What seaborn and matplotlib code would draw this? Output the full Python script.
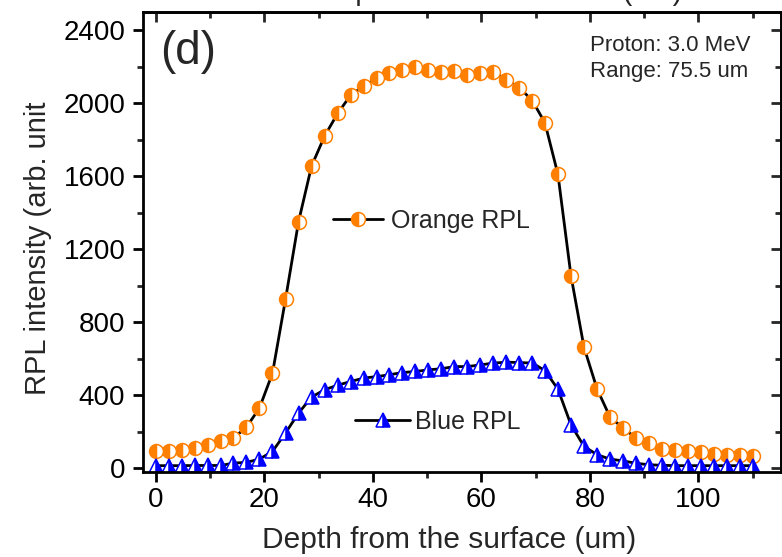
import matplotlib
matplotlib.use('Agg')
import matplotlib.pyplot as plt
from matplotlib.lines import Line2D
from matplotlib.ticker import MultipleLocator
import seaborn as sns

sns.set_theme(style='ticks')
plt.rcParams['font.family'] = ['Liberation Sans', 'DejaVu Sans']

# depth (um) and RPL intensity
depth = [0.0, 2.4, 4.8, 7.2, 9.6, 12.0, 14.3, 16.7, 19.1, 21.5, 23.9, 26.3,
         28.7, 31.1, 33.5, 35.9, 38.3, 40.7, 43.0, 45.4, 47.8, 50.2, 52.6,
         55.0, 57.4, 59.8, 62.2, 64.6, 67.0, 69.4, 71.7, 74.1, 76.5, 78.9,
         81.3, 83.7, 86.1, 88.5, 90.9, 93.3, 95.7, 98.0, 100.4, 102.8, 105.2,
         107.6, 110.0]
orange_rpl = [92, 96, 101, 112, 125, 147, 165, 225, 330, 521, 926, 1351,
              1656, 1820, 1944, 2044, 2094, 2136, 2163, 2181, 2199, 2181, 2172,
              2177, 2154, 2163, 2172, 2126, 2086, 2013, 1893, 1610, 1055, 663,
              435, 280, 220, 165, 138, 107, 101, 96, 87, 79, 74, 74, 68]
blue_rpl = [14, 14, 14, 15, 15, 15, 28, 32, 50, 92, 193, 302,
            390, 430, 455, 475, 494, 502, 512, 524, 530, 539, 545,
            557, 557, 566, 576, 581, 579, 576, 535, 433, 238, 120,
            74, 50, 40, 27, 19, 16, 14, 14, 14, 14, 14, 14, 14]

orange = '#ff8000'
blue = '#0000ff'

fig = plt.figure(figsize=(7.82, 5.57), dpi=100)
ax = fig.add_axes([0.1833, 0.1535, 0.8154, 0.825])

orange_style = dict(color='black', linewidth=2.0, marker='o', markersize=10,
                    markerfacecolor=orange, markeredgecolor=orange,
                    markerfacecoloralt='white', fillstyle='left',
                    markeredgewidth=1.1)
blue_style = dict(color='black', linewidth=2.0, marker='^', markersize=10.5,
                  markerfacecolor=blue, markeredgecolor=blue,
                  markerfacecoloralt='white', fillstyle='right',
                  markeredgewidth=1.1)

sns.lineplot(x=depth, y=orange_rpl, ax=ax, **orange_style)
sns.lineplot(x=depth, y=blue_rpl, ax=ax, **blue_style)

ax.set_xlim(-2.3, 115.2)
ax.set_ylim(-18, 2500)
ax.xaxis.set_major_locator(MultipleLocator(20))
ax.xaxis.set_minor_locator(MultipleLocator(10))
ax.yaxis.set_major_locator(MultipleLocator(400))
ax.yaxis.set_minor_locator(MultipleLocator(200))

for s in ax.spines.values():
    s.set_linewidth(2)
    s.set_color('black')

ax.tick_params(which='major', direction='out', length=7, width=2,
               labelsize=20, colors='black', pad=4)
ax.tick_params(which='minor', direction='out', length=4, width=2)
ax.tick_params(axis='y', which='major', pad=6)

# mirrored ticks pointing inward on top and right
top = ax.secondary_xaxis('top')
top.xaxis.set_major_locator(MultipleLocator(20))
top.xaxis.set_minor_locator(MultipleLocator(10))
top.tick_params(which='major', direction='in', length=7, width=2, labeltop=False)
top.tick_params(which='minor', direction='in', length=4, width=2)
right = ax.secondary_yaxis('right')
right.yaxis.set_major_locator(MultipleLocator(400))
right.yaxis.set_minor_locator(MultipleLocator(200))
right.tick_params(which='major', direction='in', length=7, width=2, labelright=False)
right.tick_params(which='minor', direction='in', length=4, width=2)
for sec in (top, right):
    for s in sec.spines.values():
        s.set_linewidth(2)

ax.set_xlabel('Depth from the surface (um)', fontsize=21.5)
ax.xaxis.set_label_coords(0.479, -0.118)
ax.set_ylabel('RPL intensity (arb. unit', fontsize=21)
ax.yaxis.set_label_coords(-0.143, 0.485)

ax.text(0.026, 0.913, '(d)', transform=ax.transAxes, fontsize=33,
        va='center', ha='left')
ax.text(0.700, 0.928, 'Proton: 3.0 MeV', transform=ax.transAxes,
        fontsize=16, va='center', ha='left')
ax.text(0.700, 0.870, 'Range: 75.5 um', transform=ax.transAxes,
        fontsize=16, va='center', ha='left')

h_orange = Line2D([], [], **orange_style)
h_blue = Line2D([], [], **blue_style)
leg1 = ax.legend([h_orange], ['Orange RPL'], loc='center left',
                 bbox_to_anchor=(0.2975, 0.545), frameon=False, fontsize=18,
                 handlelength=2.0, handletextpad=0.3, borderpad=0,
                 borderaxespad=0)
ax.add_artist(leg1)
ax.legend([h_blue], ['Blue RPL'], loc='center left',
          bbox_to_anchor=(0.332, 0.108), frameon=False, fontsize=18,
          handlelength=2.2, handletextpad=0.2, borderpad=0, borderaxespad=0)

# title of the source figure, cut off by the top edge
fig.text(0.64, 1.0, 'Depth from the surface (um)', fontsize=21,
         ha='center', va='baseline')

fig.savefig('out.png', dpi=100)
